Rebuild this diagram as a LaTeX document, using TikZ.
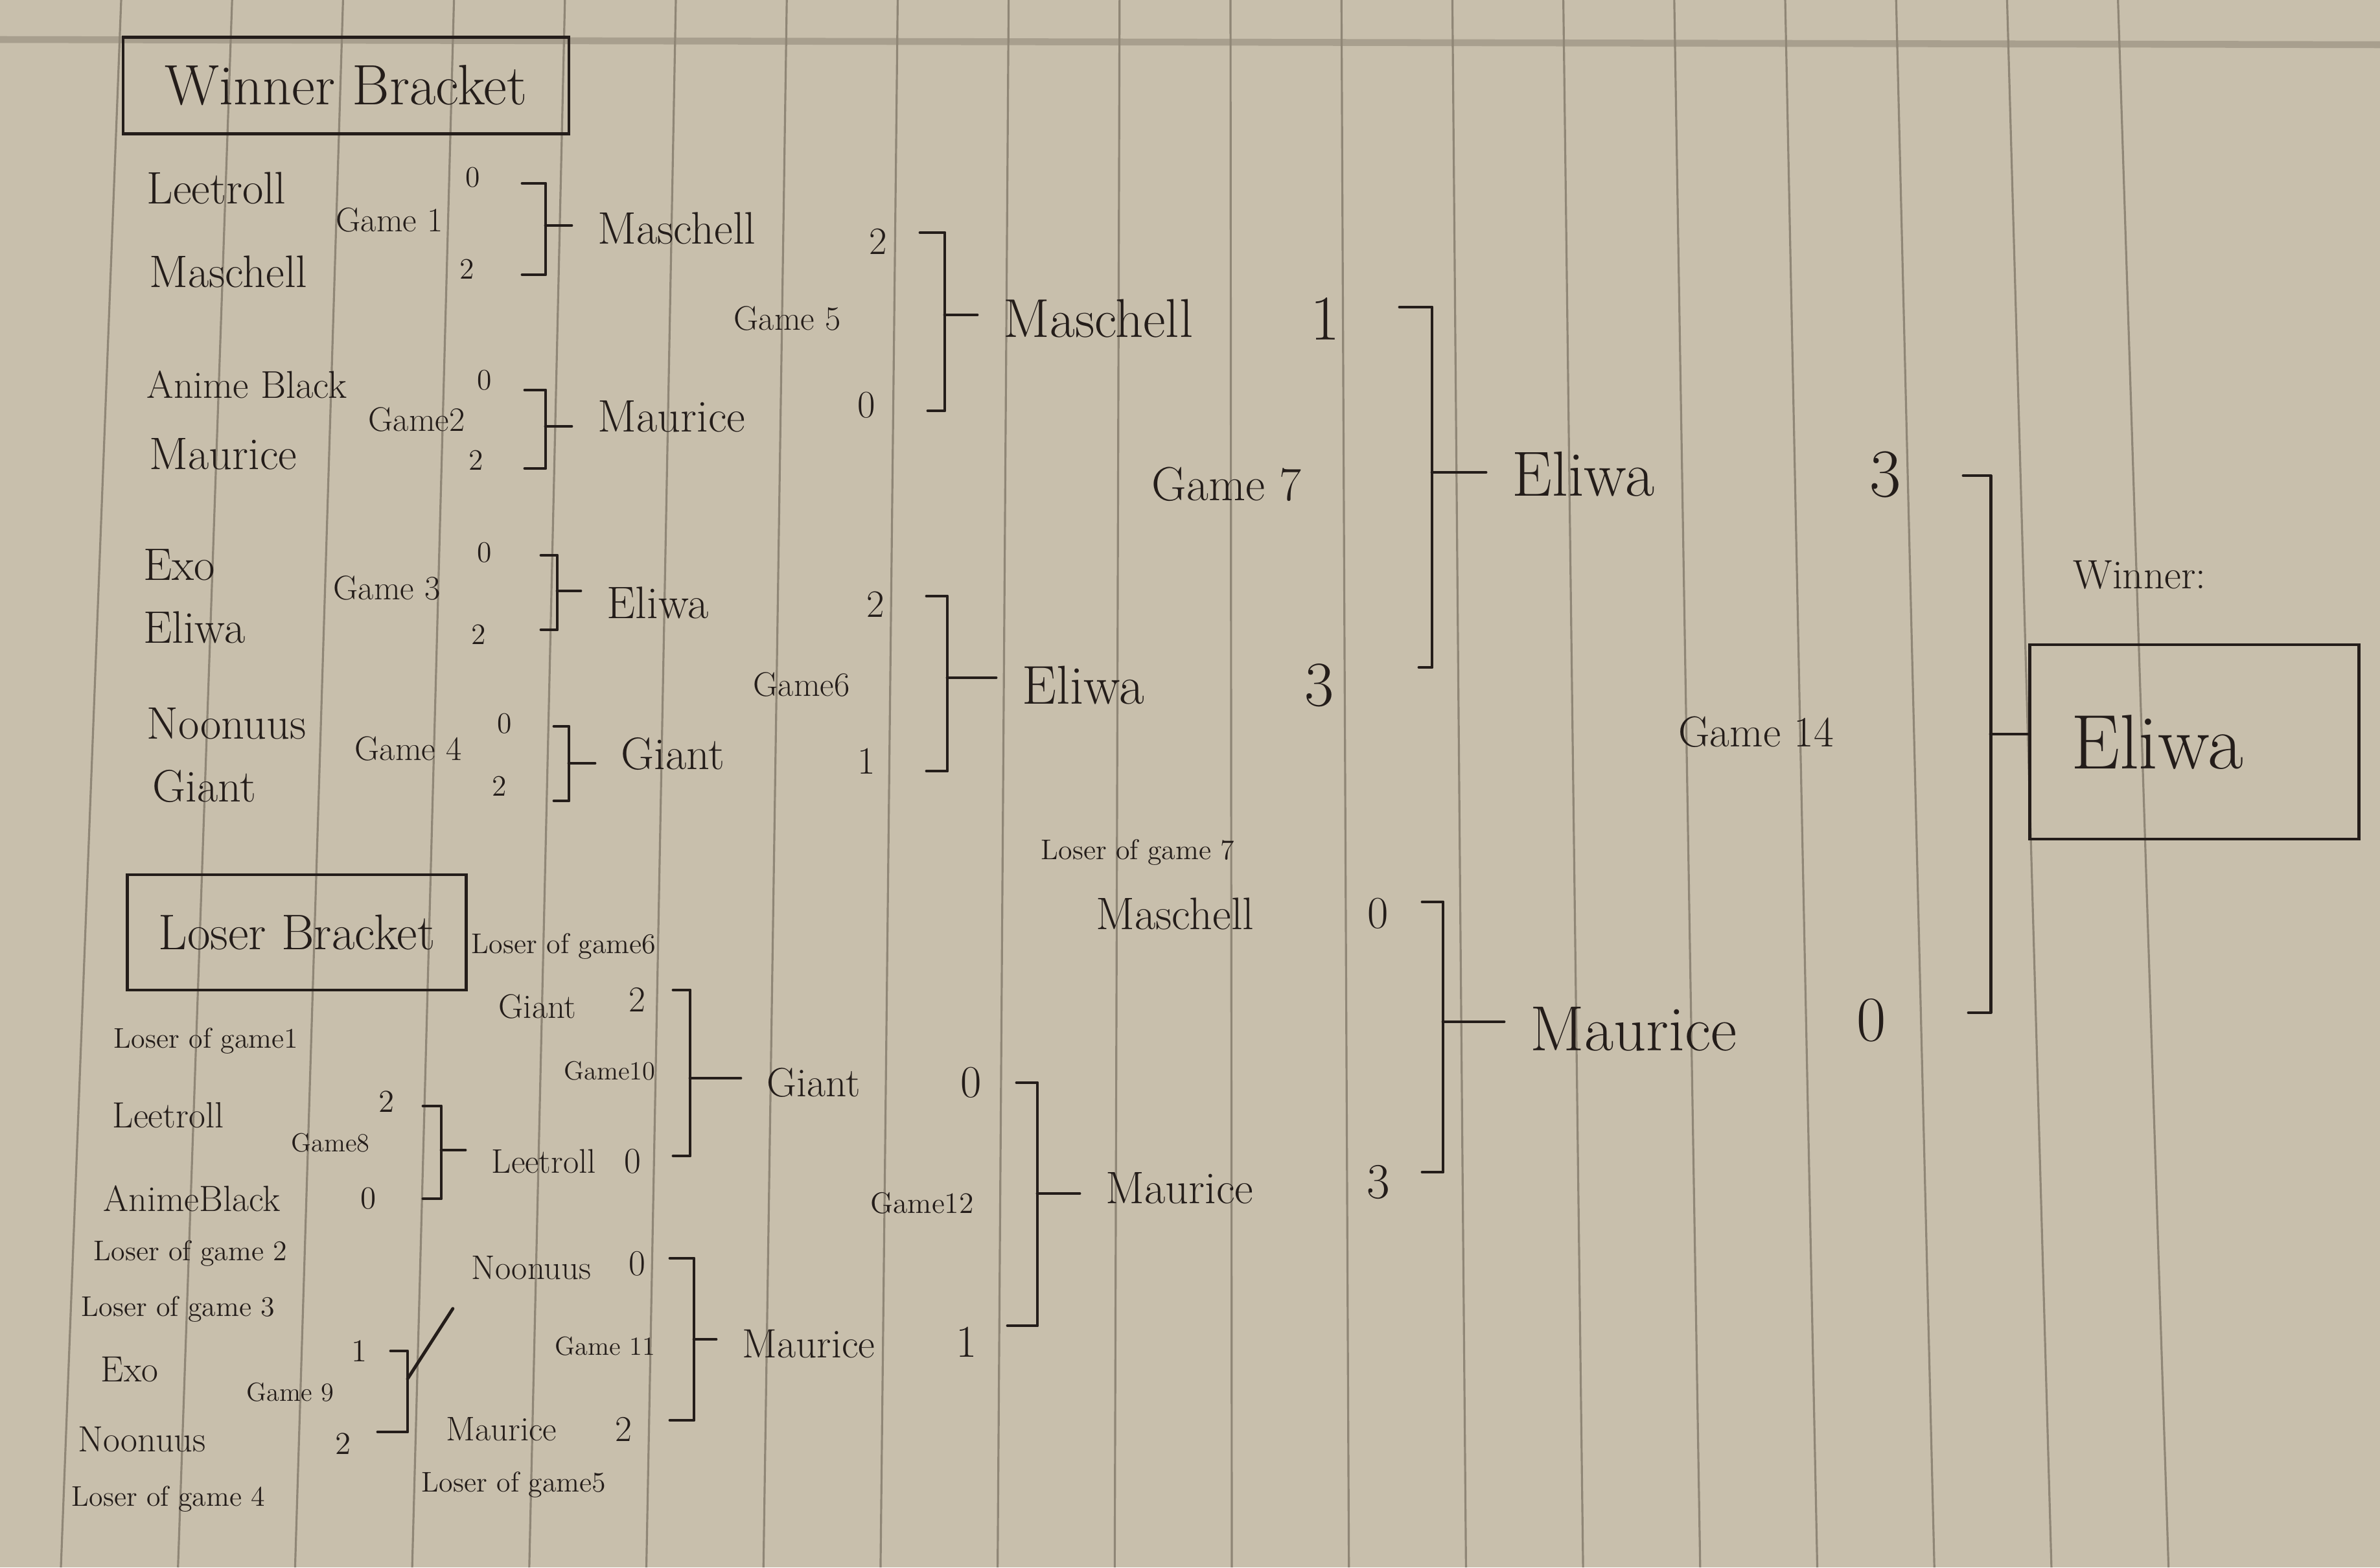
\documentclass[tikz,border=0pt]{standalone}
\usepackage{tikz}
\usetikzlibrary{positioning,calc}

\definecolor{paper}{RGB}{200,191,172}
\definecolor{ruling}{RGB}{143,134,118}
\definecolor{ink}{RGB}{36,29,26}

\tikzset{
  player/.style={anchor=west, inner sep=0pt, text=ink, font=\fontsize{#1}{#1}\selectfont},
  score/.style={inner sep=0pt, text=ink, font=\fontsize{#1}{#1}\selectfont},
  gamelbl/.style={inner sep=0pt, text=ink, font=\fontsize{#1}{#1}\selectfont},
  note/.style={inner sep=0pt, text=ink, font=\fontsize{12.5}{12.5}\selectfont},
  titlebox/.style={draw=ink, line width=1.4pt, text=ink},
  br/.style={draw=ink, line width=1.4pt, line cap=round, line join=round},
  stem/.style={br, shorten >=0.4cm},
  rule/.style={draw=ruling, line width=0.9pt},
}

\begin{document}
\begin{tikzpicture}
    % paper
    \fill[paper] (0,0) rectangle (36.73,-24.19);
    \useasboundingbox (0,0) rectangle (36.73,-24.19);
    \foreach \i in {0,...,18}
        \draw[rule] ({1.87+1.712*\i},0) -- ({0.94+1.807*\i},-24.19);
    \draw[draw=ruling, line width=3pt, opacity=0.55] (0,-0.61) -- (36.73,-0.69);

    % winner bracket
    \node[titlebox, minimum width=6.88cm, minimum height=1.49cm, font=\fontsize{25}{25}\selectfont] (wtitle) at (5.34,-1.32) {Winner Bracket};

    \node[player=20] (nLee1) at (2.26,-2.90) {Leetroll};
    \node[player=20] (nMas1) at (2.30,-4.19) {Maschell};
    \node[gamelbl=15] (gl1) at (6.01,-3.39) {Game 1};
    \node[score=13] (sLee1) at (7.30,-2.74) {0};
    \node[score=13] (sMas1) at (7.21,-4.15) {2};

    \node[player=17] (nAni1) at (2.26,-5.94) {Anime Black};
    \node[player=20] (nMau1) at (2.30,-7.01) {Maurice};
    \node[gamelbl=15] (gl2) at (6.43,-6.47) {Game2};
    \node[score=13] (sAni1) at (7.48,-5.87) {0};
    \node[score=13] (sMau1) at (7.35,-7.10) {2};

    \node[player=20] (nExo1) at (2.21,-8.72) {Exo};
    \node[player=20] (nEli1) at (2.21,-9.68) {Eliwa};
    \node[gamelbl=15] (gl3) at (5.97,-9.07) {Game 3};
    \node[score=13] (sExo1) at (7.48,-8.53) {0};
    \node[score=13] (sEli1) at (7.39,-9.79) {2};

    \node[player=20] (nNoo1) at (2.26,-11.17) {Noonuus};
    \node[player=20] (nGia1) at (2.35,-12.13) {Giant};
    \node[gamelbl=15] (gl4) at (6.30,-11.55) {Game 4};
    \node[score=13] (sNoo1) at (7.79,-11.17) {0};
    \node[score=13] (sGia1) at (7.71,-12.13) {2};

    \node[player=20] (nMas2) at (9.22,-3.52) {Maschell};
    \node[score=17] (sMas2) at (13.55,-3.73) {2};
    \node[player=20] (nMau2) at (9.22,-6.43) {Maurice};
    \node[score=17] (sMau2) at (13.37,-6.25) {0};
    \node[gamelbl=15] (gl5) at (12.15,-4.91) {Game 5};
    \node[player=20] (nEli2) at (9.36,-9.30) {Eliwa};
    \node[score=17] (sEli2) at (13.51,-9.33) {2};
    \node[player=20] (nGia2) at (9.58,-11.63) {Giant};
    \node[score=17] (sGia2) at (13.37,-11.75) {1};
    \node[gamelbl=15] (gl6) at (12.37,-10.56) {Game6};

    \node[player=24] (nMas3) at (15.48,-4.92) {Maschell};
    \node[score=28] (sMas3) at (20.45,-4.92) {1};
    \node[player=24] (nEli3) at (15.77,-10.58) {Eliwa};
    \node[score=28] (sEli3) at (20.36,-10.58) {3};
    \node[gamelbl=21] (gl7) at (18.93,-7.47) {Game 7};

    \node[player=28] (nEli4) at (23.33,-7.32) {Eliwa};
    \node[score=30] (sEli4) at (29.10,-7.32) {3};
    \node[gamelbl=19] (gl14) at (27.10,-11.30) {Game 14};
    \node[gamelbl=18] (wlabel) at (33.02,-8.87) {Winner:};
    \node[titlebox, text width=3.8cm, inner xsep=0.64cm, minimum height=3cm, align=left, font=\fontsize{34}{34}\selectfont] (champ) at (33.86,-11.45) {Eliwa};

    % loser bracket
    \node[titlebox, minimum width=5.23cm, minimum height=1.78cm, font=\fontsize{22}{22}\selectfont] (ltitle) at (4.58,-14.39) {Loser Bracket};

    \node[note] (lbl1) at (3.18,-16.07) {Loser of game1};
    \node[player=16] (nLeeL1) at (1.73,-17.21) {Leetroll};
    \node[player=16] (nAniL1) at (1.59,-18.50) {AnimeBlack};
    \node[gamelbl=11.5] (gl8) at (5.10,-17.64) {Game8};
    \node[score=14] (sLeeL1) at (5.97,-17.00) {2};
    \node[score=14] (sAniL1) at (5.69,-18.50) {0};
    \node[note] (lbl2) at (2.94,-19.35) {Loser of game 2};
    \node[note] (lbl3) at (2.75,-20.21) {Loser of game 3};
    \node[player=16] (nExoL1) at (1.55,-21.14) {Exo};
    \node[player=16] (nNooL1) at (1.20,-22.21) {Noonuus};
    \node[gamelbl=11.5] (gl9) at (4.48,-21.49) {Game 9};
    \node[score=14] (sExoL1) at (5.55,-20.85) {1};
    \node[score=14] (sNooL1) at (5.30,-22.28) {2};
    \node[note] (lbl4) at (2.60,-23.14) {Loser of game 4};

    \node[note] (lbl6) at (8.70,-14.61) {Loser of game6};
    \node[player=15] (nGiaL2) at (7.69,-15.53) {Giant};
    \node[score=16] (sGiaL2) at (9.83,-15.43) {2};
    \node[gamelbl=11.5] (gl10) at (9.41,-16.53) {Game10};
    \node[player=15] (nLeeL2) at (7.58,-17.92) {Leetroll};
    \node[score=16] (sLeeL2) at (9.76,-17.92) {0};
    \node[player=15] (nNooL2) at (7.27,-19.57) {Noonuus};
    \node[score=16] (sNooL2) at (9.83,-19.50) {0};
    \node[gamelbl=11.5] (gl11) at (9.34,-20.78) {Game 11};
    \node[player=15] (nMauL2) at (6.88,-22.06) {Maurice};
    \node[score=16] (sMauL2) at (9.62,-22.06) {2};
    \node[note] (lbl5) at (7.93,-22.92) {Loser of game5};

    \node[player=18] (nGiaL3) at (11.83,-16.71) {Giant};
    \node[score=20] (sGiaL3) at (14.99,-16.71) {0};
    \node[player=18] (nMauL3) at (11.45,-20.74) {Maurice};
    \node[score=20] (sMauL3) at (14.92,-20.71) {1};
    \node[gamelbl=13] (gl12) at (14.23,-18.57) {Game12};

    \node[note] (lbl7) at (17.56,-13.16) {Loser of game 7};
    \node[player=20] (nMasL4) at (16.91,-14.10) {Maschell};
    \node[score=20] (sMasL4) at (21.27,-14.10) {0};
    \node[player=20] (nMauL4) at (17.06,-18.34) {Maurice};
    \node[score=22] (sMauL4) at (21.27,-18.25) {3};

    \node[player=28] (nMauL5) at (23.61,-15.88) {Maurice};
    \node[score=28] (sMauL5) at (28.88,-15.75) {0};

    % brackets: top tick, bottom tick, bracket x, stem y, next player
    \foreach \n/\xt/\yt/\xb/\yb/\x/\ym/\tgt in {
        1/8.06/-2.83/8.06/-4.24/8.42/-3.48/nMas2,
        2/8.10/-6.02/8.10/-7.23/8.42/-6.58/nMau2,
        3/8.35/-8.57/8.35/-9.72/8.60/-9.12/nEli2,
        4/8.55/-11.21/8.55/-12.36/8.78/-11.78/nGia2,
        5/14.20/-3.59/14.32/-6.34/14.58/-4.86/nMas3,
        6/14.30/-9.20/14.30/-11.90/14.62/-10.46/nEli3,
        7/21.60/-4.74/21.90/-10.30/22.10/-7.29/nEli4,
        8/6.53/-17.07/6.53/-18.50/6.81/-17.75/nLeeL2,
        10/10.39/-15.28/10.39/-17.84/10.65/-16.64/nGiaL3,
        11/10.34/-19.42/10.34/-21.92/10.71/-20.67/nMauL3,
        12/15.69/-16.71/15.55/-20.46/16.01/-18.42/nMauL4,
        13/21.95/-13.92/21.95/-18.09/22.27/-15.77/nMauL5}
    {
        \coordinate (g\n) at (\x,\ym);
        \draw[br] (\xt,\yt) -| (g\n) |- (\xb,\yb);
        \draw[stem] (g\n) -- (g\n -| \tgt.west);
    }

    % game 9 goes up to the next round
    \coordinate (g9) at (6.29,-21.28);
    \draw[br] (6.03,-20.85) -| (g9) |- (5.83,-22.10);
    \draw[br, shorten >=0.52cm] (g9) -- (nNooL2.south west);

    % final
    \coordinate (g14) at (30.72,-11.33);
    \draw[br] (30.30,-7.34) -| (g14) |- (30.38,-15.63);
    \draw[br] (g14) -- (g14 -| champ.west);
\end{tikzpicture}
\end{document}
